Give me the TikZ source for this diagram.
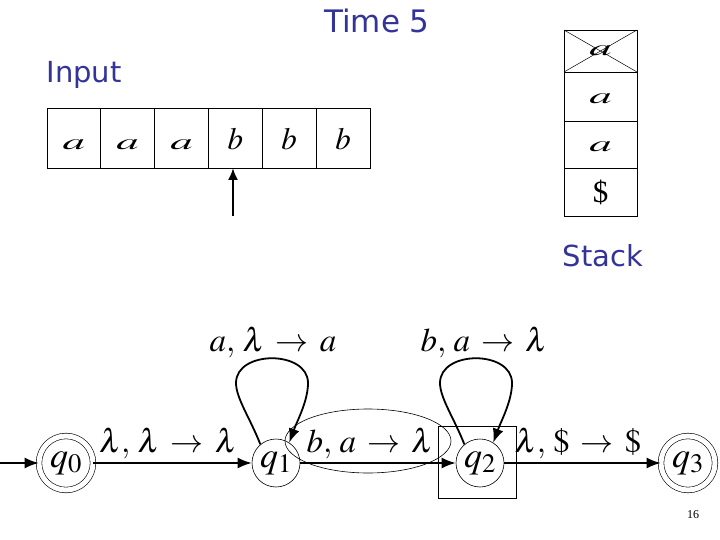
\documentclass[tikz,border=0pt]{standalone}
\usepackage{fontspec}
\usepackage{mathptmx}
\usepackage{graphicx}
\usetikzlibrary{arrows.meta,calc}
\setmainfont{Liberation Serif}
\newfontfamily\comicfont{DejaVu Sans}
\definecolor{titleblue}{RGB}{51,51,153}

\tikzset{
  state/.style={draw,circle,line width=0.6pt,inner sep=0pt,minimum size=48pt,
    font=\fontsize{36}{40}\selectfont},
  final/.style={state,double,double distance=5pt,minimum size=54pt},
  trans/.style={line width=1.8pt,-{Latex[length=14pt,width=11pt]}},
  lab/.style={anchor=base,font=\fontsize{33}{38}\selectfont},
  cell/.style={draw,line width=0.7pt},
  tapesym/.style={anchor=base,font=\fontsize{31}{36}\selectfont},
  heading/.style={anchor=base,text=titleblue,font=\comicfont}
}
\newcommand{\flata}{\scalebox{1.45}[0.72]{$a$}}
\newcommand{\arr}{\mathrel{\,\rightarrow\,}}

\begin{document}
\begin{tikzpicture}[x=1pt,y=-1pt]
  \useasboundingbox (0,0) rectangle (720,540);

  % titles
  \node[heading,font=\comicfont\fontsize{31}{36}\selectfont] (time)  at (377,33)  {Time 5};
  \node[heading,font=\comicfont\fontsize{29}{34}\selectfont] (input) at (84,83)   {Input};
  \node[heading,font=\comicfont\fontsize{29}{34}\selectfont] (stack) at (603,266) {Stack};

  % input tape
  \foreach \i/\s in {0/\flata,1/\flata,2/\flata,3/$b$,4/$b$,5/$b$} {
    \draw[cell] (47+53.83*\i,108) rectangle (47+53.83*\i+53.83,168);
    \node[tapesym] (t\i) at (47+53.83*\i+26.9,150) {\s};
  }
  \coordinate (head) at (233,216);
  \coordinate (cur)  at (233,168);
  \draw[line width=2pt,-{Latex[length=12pt,width=10pt]}] (head) -- (cur);

  % stack
  \draw[cell] (564,30) rectangle (637,72);
  \draw[line width=0.5pt] (564,30) -- (637,72);
  \draw[line width=0.5pt] (564,72) -- (637,30);
  \draw[cell] (564,72) rectangle (637,121);
  \draw[cell] (564,121) rectangle (637,168);
  \draw[cell] (564,168) rectangle (637,216);
  \node[tapesym] (s0) at (600.5,56)  {\flata};
  \node[tapesym] (s1) at (600.5,104) {\flata};
  \node[tapesym] (s2) at (600.5,152) {\flata};
  \node[tapesym] (s3) at (600.5,203) {\$};

  % automaton
  \node[final] (q0) at (66,463)  {$q_0$};
  \node[state] (q1) at (276,463) {$q_1$};
  \node[state] (q2) at (480,463) {$q_2$};
  \node[final] (q3) at (688,463) {$q_3$};
  \coordinate (start) at (0,463);

  \draw[trans] (start) -- (q0);
  \draw[trans] (q0) -- (q1);
  \draw[trans] (q1) -- (q2);
  \draw[trans] (q2) -- (q3);
  \foreach \q in {q1,q2}
    \draw[trans] (\q.130) .. controls ($(\q)+(-26,-45)$) and ($(\q)+(-40,-65)$)
      .. ($(\q)+(-40,-80)$) .. controls +(0,-33) and +(0,-33)
      .. ($(\q)+(32,-80)$) .. controls +(0,18) and +(8,-22) .. (\q.57);

  \node[lab] (l01) at (168,452) {$\lambda,\,\lambda\arr\lambda$};
  \node[lab] (l12) at (370,452) {$b,\,a\arr\lambda$};
  \node[lab] (l23) at (578,452) {$\lambda,\,\$\arr\$$};
  \node[lab] (l11) at (273,351) {$a,\,\lambda\arr a$};
  \node[lab] (l22) at (484,351) {$b,\,a\arr\lambda$};

  % current step marks
  \draw[line width=0.6pt] (368,441) ellipse [x radius=83,y radius=32];
  \draw[line width=0.7pt] (438,426) rectangle (516,498);

  \node[font=\fontsize{12}{14}\selectfont] (page) at (693,515) {16};
\end{tikzpicture}
\end{document}
